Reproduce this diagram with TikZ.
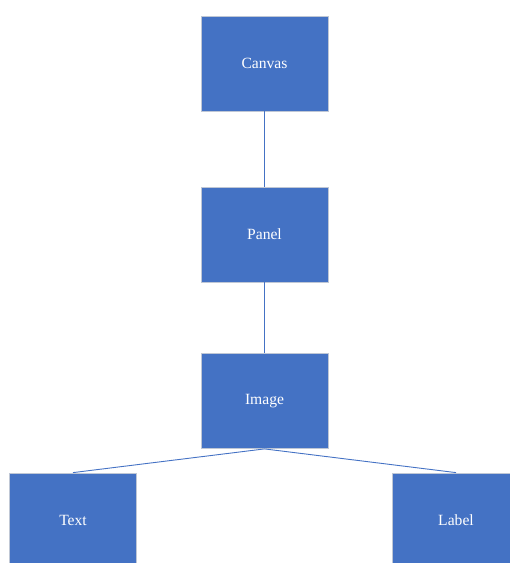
\documentclass[tikz,border=0pt]{standalone}
\usepackage{fontspec}
\setmainfont{Liberation Serif}
\definecolor{boxblue}{HTML}{4472C4}
\definecolor{boxedge}{HTML}{BFC7D5}
\begin{document}
\begin{tikzpicture}[x=1pt,y=-1pt,
  treebox/.style={rectangle, fill=boxblue, draw=boxedge, line width=0.8pt,
    minimum width=127pt, minimum height=95pt, inner sep=0pt,
    text=white, font=\fontsize{15.6}{18}\selectfont},
  link/.style={draw=boxblue, line width=0.9pt}]
  \useasboundingbox (0,0) rectangle (510,563);
  \begin{scope}
    \clip (0,0) rectangle (510,563);
    \node[treebox] (canvas) at (264.5,63.5) {Canvas};
    \node[treebox] (panel) at (264.5,234.5) {Panel};
    \node[treebox] (image) at (264.5,401) {Image};
    \node[treebox] (text) at (73,520.5) {Text};
    \node[treebox] (label) at (456,520.5) {Label};
    \draw[link] (canvas.south) -- (panel.north);
    \draw[link] (panel.south) -- (image.north);
    \draw[link] (image.south) -- (text.north);
    \draw[link] (image.south) -- (label.north);
  \end{scope}
\end{tikzpicture}
\end{document}
